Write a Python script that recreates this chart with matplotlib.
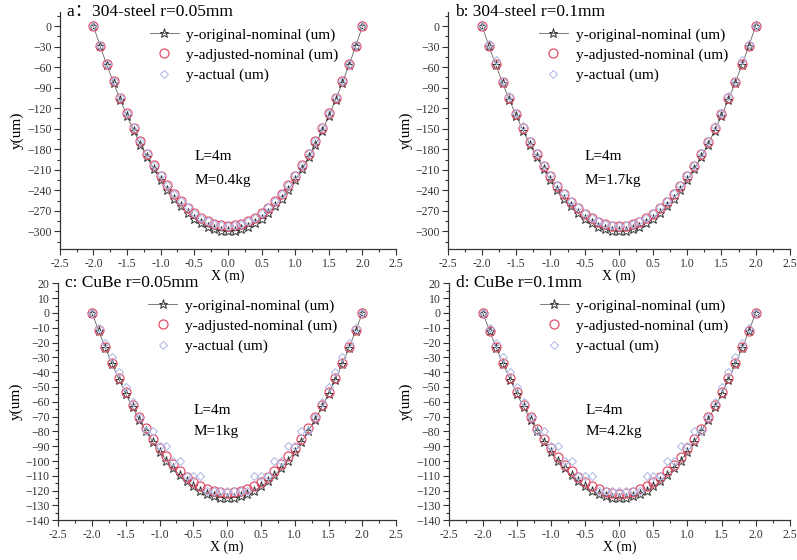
import numpy as np
import matplotlib
matplotlib.use("Agg")
import matplotlib.pyplot as plt
from matplotlib.ticker import MultipleLocator
from matplotlib.lines import Line2D

plt.rcParams['font.family'] = ['Liberation Serif', 'Noto Sans CJK SC']

x = [-2.0, -1.9, -1.8, -1.7, -1.6, -1.5, -1.4, -1.3, -1.2, -1.1, -1.0,
     -0.9, -0.8, -0.7, -0.6, -0.5, -0.4, -0.3, -0.2, -0.1, 0.0,
     0.1, 0.2, 0.3, 0.4, 0.5, 0.6, 0.7, 0.8, 0.9, 1.0,
     1.1, 1.2, 1.3, 1.4, 1.5, 1.6, 1.7, 1.8, 1.9, 2.0]

# panel a: 304-steel r=0.05mm
a_orig = [0, -29.3, -57, -83.3, -108, -131.3, -153, -173.3, -192, -209.3, -225,
          -239.3, -252, -263.3, -273, -281.3, -288, -293.3, -297, -299.3, -300,
          -299.3, -297, -293.3, -288, -281.3, -273, -263.3, -252, -239.3, -225,
          -209.3, -192, -173.3, -153, -131.3, -108, -83.3, -57, -29.3, 0]
a_adj = [0, -28.5, -55.5, -81, -105.1, -127.7, -148.9, -168.6, -186.8, -203.6, -218.9,
         -232.8, -245.2, -256.2, -265.6, -273.7, -280.2, -285.4, -289, -291.2, -291.9,
         -291.2, -289, -285.4, -280.2, -273.7, -265.6, -256.2, -245.2, -232.8, -218.9,
         -203.6, -186.8, -168.6, -148.9, -127.7, -105.1, -81, -55.5, -28.5, 0]
a_act = [0, -28, -55, -80, -104, -127, -148, -168, -186, -203, -218,
         -232, -245, -255, -265, -273, -280, -285, -289, -291, -292,
         -291, -289, -285, -280, -273, -265, -255, -245, -232, -218,
         -203, -186, -168, -148, -127, -104, -80, -55, -28, 0]

# panel b: 304-steel r=0.1mm
b_orig = [0, -29.3, -57, -83.3, -108, -131.3, -153, -173.3, -192, -209.3, -225,
          -239.3, -252, -263.3, -273, -281.3, -288, -293.3, -297, -299.3, -300,
          -299.3, -297, -293.3, -288, -281.3, -273, -263.3, -252, -239.3, -225,
          -209.3, -192, -173.3, -153, -131.3, -108, -83.3, -57, -29.3, 0]
b_adj = [0, -28.6, -55.6, -81.2, -105.3, -128, -149.2, -169, -187.2, -204.1, -219.4,
         -233.3, -245.7, -256.7, -266.2, -274.3, -280.8, -286, -289.6, -291.8, -292.5,
         -291.8, -289.6, -286, -280.8, -274.3, -266.2, -256.7, -245.7, -233.3, -219.4,
         -204.1, -187.2, -169, -149.2, -128, -105.3, -81.2, -55.6, -28.6, 0]
b_act = [0, -27, -50, -80, -102, -127, -146, -168, -185, -203, -217,
         -232, -244, -255, -265, -273, -280, -285, -289, -291, -292,
         -291, -289, -285, -280, -273, -265, -255, -244, -232, -217,
         -203, -185, -168, -146, -127, -102, -80, -50, -27, 0]

# panel c: CuBe r=0.05mm
c_orig = [0, -12.2, -23.8, -34.7, -45, -54.7, -63.8, -72.2, -80, -87.2, -93.8,
          -99.7, -105, -109.7, -113.8, -117.2, -120, -122.2, -123.8, -124.7, -125,
          -124.7, -123.8, -122.2, -120, -117.2, -113.8, -109.7, -105, -99.7, -93.8,
          -87.2, -80, -72.2, -63.8, -54.7, -45, -34.7, -23.8, -12.2, 0]
c_adj = [0, -11.8, -23.1, -33.7, -43.7, -53.2, -62, -70.2, -77.8, -84.8, -91.1,
         -96.9, -102.1, -106.6, -110.6, -113.9, -116.6, -118.8, -120.3, -121.2, -121.5,
         -121.2, -120.3, -118.8, -116.6, -113.9, -110.6, -106.6, -102.1, -96.9, -91.1,
         -84.8, -77.8, -70.2, -62, -53.2, -43.7, -33.7, -23.1, -11.8, 0]
c_act = [0, -10, -20, -30, -40, -50, -60, -70, -80, -80, -90,
         -90, -100, -100, -110, -110, -110, -120, -120, -120, -120,
         -120, -120, -120, -110, -110, -110, -100, -100, -90, -90,
         -80, -80, -70, -60, -50, -40, -30, -20, -10, 0]

# panel d: CuBe r=0.1mm
d_orig = [0, -12.2, -23.8, -34.7, -45, -54.7, -63.8, -72.2, -80, -87.2, -93.8,
          -99.7, -105, -109.7, -113.8, -117.2, -120, -122.2, -123.8, -124.7, -125,
          -124.7, -123.8, -122.2, -120, -117.2, -113.8, -109.7, -105, -99.7, -93.8,
          -87.2, -80, -72.2, -63.8, -54.7, -45, -34.7, -23.8, -12.2, 0]
d_adj = [0, -11.9, -23.2, -33.8, -43.9, -53.4, -62.2, -70.5, -78.1, -85.1, -91.5,
         -97.3, -102.5, -107, -111, -114.3, -117.1, -119.2, -120.7, -121.7, -122,
         -121.7, -120.7, -119.2, -117.1, -114.3, -111, -107, -102.5, -97.3, -91.5,
         -85.1, -78.1, -70.5, -62.2, -53.4, -43.9, -33.8, -23.2, -11.9, 0]
d_act = [0, -10, -20, -30, -40, -50, -60, -70, -80, -80, -90,
         -90, -100, -100, -110, -110, -110, -120, -120, -120, -120,
         -120, -120, -120, -110, -110, -110, -100, -100, -90, -90,
         -80, -80, -70, -60, -50, -40, -30, -20, -10, 0]

titles = ['a\uff1a304-steel r=0.05mm', 'b: 304-steel r=0.1mm',
          'c: CuBe r=0.05mm', 'd: CuBe r=0.1mm']
masses = ['M=0.4kg', 'M=1.7kg', 'M=1kg', 'M=4.2kg']
labels = ['y-original-nominal (um)', 'y-adjusted-nominal (um)', 'y-actual (um)']

STAR = '#333333'
RED = '#e0506a'
BLUE = '#b4bce8'

fig = plt.figure(figsize=(7.97, 5.6), dpi=100)
rects = [[0.075, 0.555, 0.422, 0.423], [0.562, 0.555, 0.429, 0.423],
         [0.073, 0.071, 0.424, 0.423], [0.563, 0.071, 0.428, 0.423]]
series = [(a_orig, a_adj, a_act), (b_orig, b_adj, b_act),
          (c_orig, c_adj, c_act), (d_orig, d_adj, d_act)]

for k, (rect, (yo, ya, yc)) in enumerate(zip(rects, series)):
    ax = fig.add_axes(rect)
    ax.plot(x, yo, color='#666666', lw=0.6, marker='*', ms=6.5,
            mfc='none', mec=STAR, mew=0.7, zorder=2)
    ax.plot(x, ya, ls='none', marker='o', ms=6.5, mfc='none', mec=RED, mew=0.9, zorder=3)
    ax.plot(x, yc, ls='none', marker='D', ms=4.2, mfc='none', mec=BLUE, mew=0.8, zorder=4)

    steel = k < 2
    ax.set_xlim(-2.5, 2.5)
    if steel:
        ax.set_ylim(-326, 20)
        ax.yaxis.set_major_locator(MultipleLocator(30))
        ax.yaxis.set_minor_locator(MultipleLocator(15))
        ax.set_yticks(np.arange(-300, 1, 30))
        ytext = (-190, -225)
    else:
        ax.set_ylim(-140, 20)
        ax.yaxis.set_major_locator(MultipleLocator(10))
        ax.yaxis.set_minor_locator(MultipleLocator(5))
        ytext = (-66, -80)
    ax.xaxis.set_major_locator(MultipleLocator(0.5))
    ax.xaxis.set_minor_locator(MultipleLocator(0.25))
    ax.xaxis.set_major_formatter(plt.FuncFormatter(lambda v, p: '%.1f' % v))

    for s in ['top', 'right']:
        ax.spines[s].set_visible(False)
    for s in ['left', 'bottom']:
        ax.spines[s].set_linewidth(0.9)
        ax.spines[s].set_color('#333333')
    ax.tick_params(which='both', direction='out', colors='#333333',
                   labelsize=8.5, width=0.8, pad=2)
    ax.tick_params(which='major', length=4)
    ax.tick_params(which='minor', length=2)

    ax.set_xlabel('X (m)', fontsize=10, labelpad=0)
    ax.set_ylabel('y(um)', fontsize=11, labelpad=2)

    ax.text(0.02, 1.0, titles[k], transform=ax.transAxes, fontsize=12.5,
            ha='left', va='center')
    ax.text(-0.5, ytext[0], 'L=4m', fontsize=11, ha='left', va='center')
    ax.text(-0.5, ytext[1], masses[k], fontsize=11, ha='left', va='center')

    handles = [Line2D([], [], color='#666666', lw=0.6, marker='*', ms=6.5,
                      mfc='none', mec=STAR, mew=0.7),
               Line2D([], [], ls='none', marker='o', ms=6.5, mfc='none', mec=RED, mew=0.9),
               Line2D([], [], ls='none', marker='D', ms=4.2, mfc='none', mec=BLUE, mew=0.8)]
    ax.legend(handles, labels, loc='upper left', bbox_to_anchor=(0.235, 0.98),
              frameon=False, fontsize=11, labelspacing=0.42, handlelength=1.9,
              handletextpad=0.5, borderpad=0.2)

fig.savefig('out.png', dpi=100)
